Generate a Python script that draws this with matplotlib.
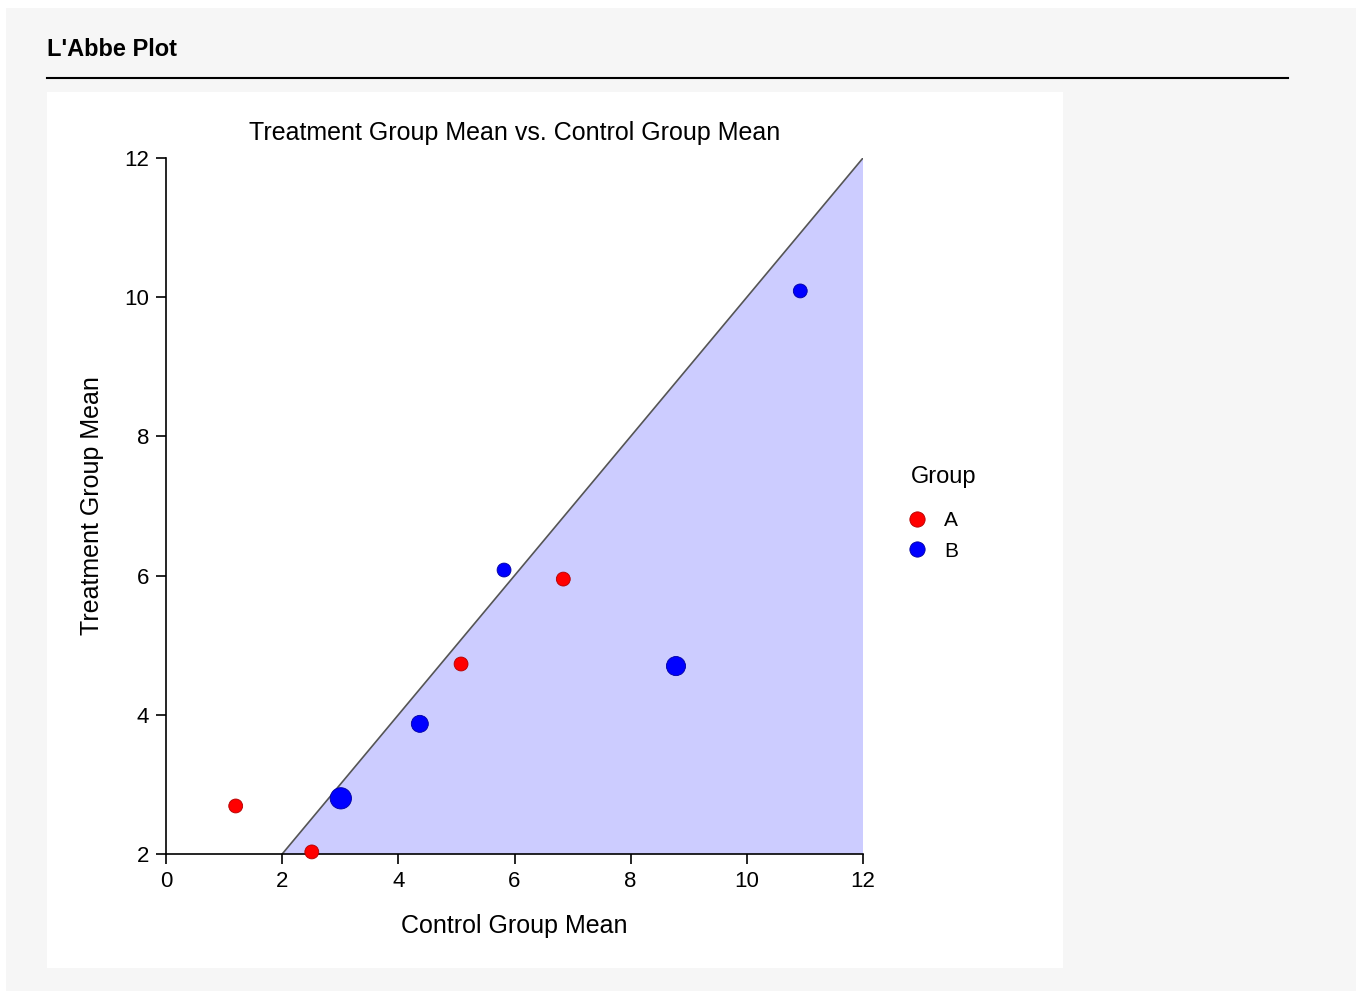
import matplotlib.pyplot as plt
from matplotlib.lines import Line2D
from matplotlib.patches import Rectangle

plt.rcParams['font.family'] = ['Liberation Sans', 'DejaVu Sans']

# Дані: середні контрольної та лікувальної груп
control_mean = [1.2, 2.51, 5.08, 6.84, 3.01, 4.37, 5.82, 8.78, 10.92]
treatment_mean = [2.69, 2.03, 4.73, 5.95, 2.80, 3.87, 6.08, 4.70, 10.09]
group = ['A', 'A', 'A', 'A', 'B', 'B', 'B', 'B', 'B']
study_n = [20, 20, 20, 20, 47, 30, 20, 38, 20]

group_colors = {'A': '#ff0000', 'B': '#0000ff'}
edge_colors = {'A': '#b00000', 'B': '#0000a0'}

fig = plt.figure(figsize=(13.56, 9.91), dpi=100)
fig.patch.set_facecolor('white')

# сірий фон та біла панель
fig.add_artist(Rectangle((6 / 1356, 0), 1, 1 - 8 / 991, transform=fig.transFigure,
                         facecolor='#f6f6f6', edgecolor='none', zorder=-3))
fig.add_artist(Rectangle((47 / 1356, 1 - 968 / 991), (1063 - 47) / 1356, (968 - 92) / 991,
                         transform=fig.transFigure, facecolor='white', edgecolor='none', zorder=-2))

fig.text(47 / 1356, 1 - 50 / 991, "L'Abbe Plot", fontsize=17, fontweight='bold', va='center', ha='left')
fig.add_artist(Line2D([47 / 1356, 1288 / 1356], [1 - 78 / 991] * 2, transform=fig.transFigure,
                      color='black', lw=1.5))

ax = fig.add_axes([166 / 1356, 1 - 854 / 991, 697 / 1356, 696 / 991])
ax.set_facecolor('none')

# область під лінією рівності
ax.fill([2, 12, 12], [2, 12, 2], color='#ccccff', zorder=1, lw=0)
ax.plot([2, 12], [2, 12], color='#555555', lw=1.2, zorder=2)

for g in ['A', 'B']:
    xs = [c for c, gg in zip(control_mean, group) if gg == g]
    ys = [t for t, gg in zip(treatment_mean, group) if gg == g]
    ss = [n * 5.0 for n, gg in zip(study_n, group) if gg == g]
    ax.scatter(xs, ys, s=ss, color=group_colors[g], edgecolors=edge_colors[g],
               linewidths=0.6, zorder=3, label=g, clip_on=False)

ax.set_xlim(0, 12)
ax.set_ylim(2, 12)
ax.set_xticks(range(0, 13, 2))
ax.set_yticks(range(2, 13, 2))
for s in ['top', 'right']:
    ax.spines[s].set_visible(False)
ax.spines['left'].set_linewidth(1.2)
ax.spines['bottom'].set_linewidth(1.2)
ax.tick_params(direction='out', length=7, width=1.2, labelsize=16, pad=5)

ax.set_title('Treatment Group Mean vs. Control Group Mean', fontsize=18, pad=13)
ax.set_xlabel('Control Group Mean', fontsize=18, labelpad=16)
ax.set_ylabel('Treatment Group Mean', fontsize=18, labelpad=15)

handles = [Line2D([], [], marker='o', ls='none', markersize=11, markerfacecolor=group_colors[g],
                  markeredgecolor=edge_colors[g], markeredgewidth=0.6, label=g) for g in ['A', 'B']]
leg = fig.legend(handles=handles, title='Group', loc='upper left',
                 bbox_to_anchor=(896 / 1356, 1 - 451 / 991), frameon=False,
                 fontsize=15, title_fontsize=17, handlelength=0.6, handletextpad=1.0,
                 labelspacing=0.55, borderpad=0.2)
leg._legend_box.align = 'left'
leg._legend_box.sep = 17

fig.savefig('out.png', dpi=100)
